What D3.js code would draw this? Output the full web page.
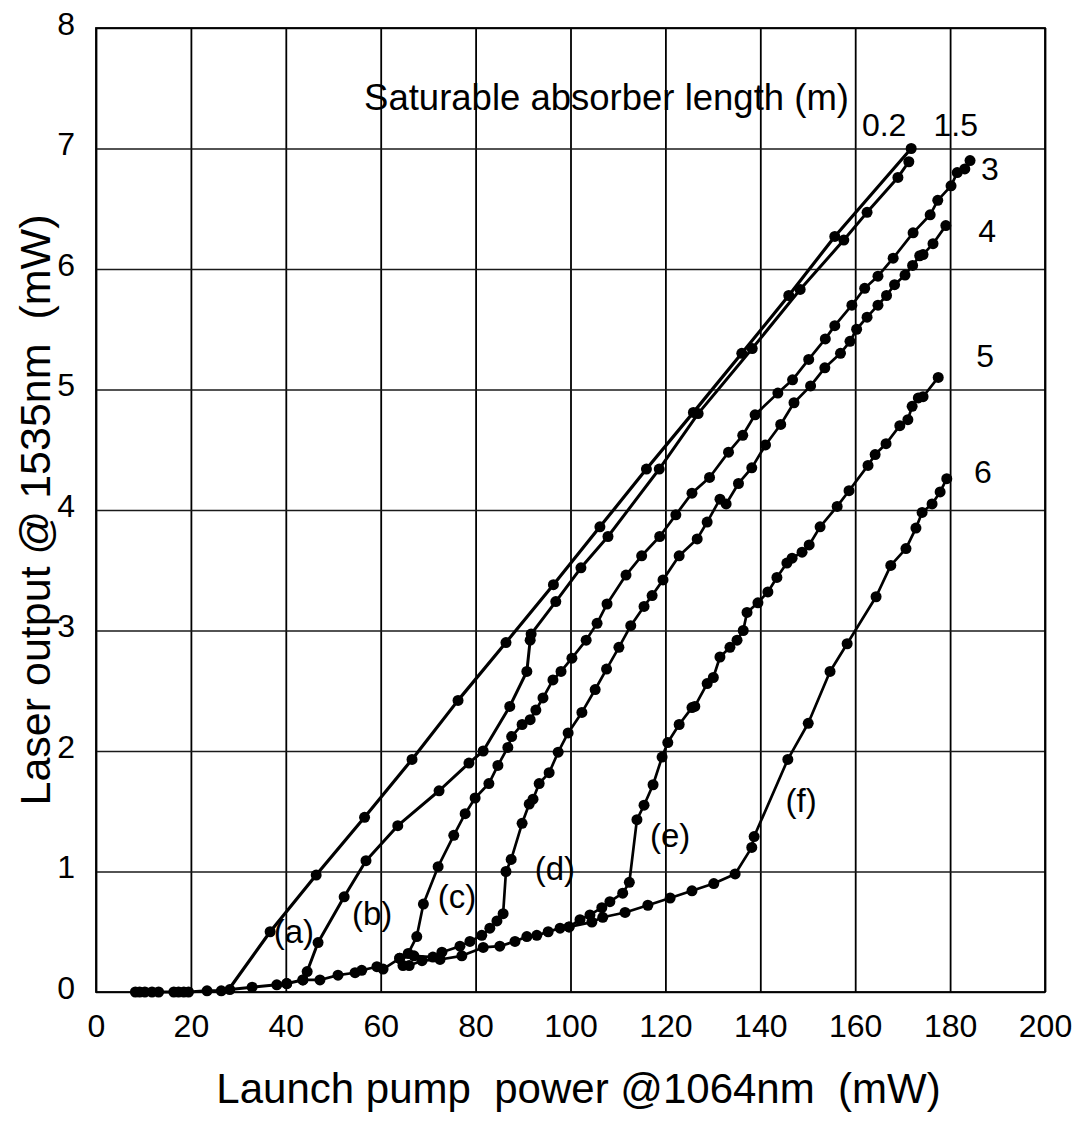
<!DOCTYPE html>
<html><head><meta charset="utf-8">
<script src="https://cdn.jsdelivr.net/npm/d3@7"></script>
<style>body{margin:0;background:#fff}</style>
</head><body>
<svg id="chart" width="1081" height="1128"></svg>
<script>
// ---------- data ----------
const xTicks = [0,20,40,60,80,100,120,140,160,180,200];
const yTicks = [0,1,2,3,4,5,6,7,8];

const belowThreshold = [[8.3,0],[9.2,0],[10.3,0],[11.8,0],[13.2,0],[16.4,0],[17.4,0],[18.5,0],[19.5,0],[23.4,0.01],[26.4,0.01],[28.2,0.02],[32.9,0.04],[38.1,0.06],[40.2,0.07]];

const seriesA = [[27.6,0],[36.7,0.5],[46.4,0.97],[56.6,1.45],[66.6,1.93],[76.3,2.42],[86.4,2.9],[96.4,3.38],[106.2,3.86],[116,4.34],[125.9,4.81],[136.1,5.3],[146,5.78],[155.7,6.27],[171.8,7.0]];

const seriesB = [[40.2,0.07],[43.6,0.1],[44.5,0.17],[46.8,0.41],[52.3,0.79],[56.9,1.09],[63.6,1.38],[72.3,1.67],[78.6,1.9],[81.6,2.0],[87.2,2.37],[90.8,2.66],[91.5,2.92],[91.7,2.97],[96.9,3.24],[102.2,3.52],[107.9,3.78],[118.7,4.34],[126.9,4.8],[138.3,5.34],[148.4,5.83],[157.6,6.24],[162.5,6.47],[169,6.76],[171.3,6.89]];

const seriesC = [[43.6,0.1],[47.2,0.1],[51,0.14],[54.6,0.16],[56,0.18],[59.2,0.21],[60.5,0.19],[64,0.28],[65.8,0.32],[67.6,0.46],[69,0.73],[72.1,1.04],[75.4,1.3],[77.8,1.48],[79.9,1.61],[82.8,1.73],[84.7,1.88],[86.8,2.03],[87.6,2.12],[89.8,2.22],[91.5,2.26],[92.7,2.34],[94.2,2.44],[96.3,2.59],[98,2.66],[100.3,2.77],[103.3,2.92],[105.6,3.06],[107.7,3.22],[111.7,3.46],[115,3.62],[118.8,3.78],[122.2,3.96],[125.6,4.14],[129.3,4.27],[133.3,4.48],[136.3,4.62],[138.9,4.79],[143.7,4.97],[146.8,5.08],[150.2,5.25],[153.7,5.42],[155.7,5.53],[159.3,5.7],[162,5.84],[164.8,5.94],[168,6.09],[172.2,6.3],[175.8,6.45],[177.4,6.57],[180.2,6.69],[181.5,6.8],[183.1,6.83],[184.2,6.9]];

const seriesD = [[64,0.28],[67,0.3],[71,0.29],[72.9,0.33],[76.7,0.38],[78.8,0.42],[81.3,0.47],[83,0.53],[84.5,0.59],[85.8,0.65],[86.4,1.0],[87.5,1.1],[89.8,1.4],[91.3,1.56],[92.1,1.6],[93.4,1.73],[95.5,1.82],[97.4,1.99],[99.5,2.15],[102.4,2.32],[105.2,2.51],[107.6,2.68],[110.2,2.86],[112.7,3.04],[115.5,3.2],[117.2,3.29],[119.5,3.42],[122.9,3.62],[126.7,3.76],[128.8,3.9],[131.5,4.09],[132.8,4.05],[135.4,4.22],[138.2,4.35],[141.1,4.54],[144.3,4.71],[147.1,4.89],[150.6,5.03],[153.6,5.18],[156.9,5.3],[158.9,5.4],[160.3,5.5],[162.5,5.6],[164.8,5.7],[166.6,5.78],[168.3,5.87],[170.5,5.95],[172.1,6.03],[173.6,6.11],[174.3,6.12],[176.4,6.21],[179.1,6.36]];

const seriesE = [[64.7,0.22],[66,0.22],[68.7,0.26],[72.5,0.27],[77.1,0.3],[81.6,0.37],[85.1,0.38],[88.3,0.42],[90.8,0.46],[92.9,0.47],[95.3,0.5],[97.8,0.53],[99.7,0.54],[102,0.6],[104.1,0.64],[106.6,0.7],[108.3,0.75],[111,0.82],[112.4,0.91],[114,1.43],[115.5,1.55],[117.4,1.72],[119.3,1.95],[120.5,2.07],[122.9,2.22],[125.6,2.36],[126.2,2.37],[128.8,2.56],[130.1,2.61],[131.5,2.78],[133.6,2.86],[135.1,2.92],[136.4,3.0],[137.2,3.15],[139.5,3.23],[141.6,3.32],[143.5,3.44],[145.6,3.56],[146.7,3.6],[148.8,3.65],[150.3,3.71],[152.6,3.86],[156.2,4.03],[158.7,4.16],[162.7,4.37],[164.2,4.46],[166.5,4.55],[169.4,4.7],[171.1,4.75],[172,4.86],[173.3,4.93],[174.3,4.94],[177.5,5.1]];

const seriesF = [[99.7,0.54],[104.5,0.58],[106.8,0.62],[111.5,0.66],[116.3,0.72],[121,0.78],[125.6,0.84],[130.2,0.9],[134.7,0.98],[138.2,1.2],[138.7,1.29],[145.8,1.93],[150.1,2.23],[154.7,2.66],[158.3,2.89],[164.4,3.28],[167.5,3.54],[170.7,3.68],[172.8,3.85],[174.1,3.98],[176.2,4.05],[177.9,4.15],[179.3,4.26]];

const curveNames = ["(a)","(b)","(c)","(d)","(e)","(f)"];
const curveNameAt = [[41.7,0.41],[58.2,0.56],[76.1,0.70],[96.7,0.93],[121,1.20],[148.6,1.49]];
const lengthNames = ["0.2","1.5","3","4","5","6"];
const lengthNameAt = [[166.1,7.10],[181.2,7.10],[188.4,6.74],[187.8,6.22],[187.4,5.19],[186.9,4.22]];
const legendTitle = "Saturable absorber length (m)";
const legendTitleAt = [56.5,7.32];
const xTitle = "Launch pump\u00a0 power @1064nm\u00a0 (mW)";
const yTitle = "Laser output @ 1535nm\u00a0 (mW)";

// ---------- chart ----------
const L = 96, R = 1045, T = 28, B = 992;
const svg = d3.select("#chart");
const font = "'Liberation Sans', Arial, sans-serif";

const x = d3.scaleLinear().domain([0,200]).range([L,R]);
const y = d3.scaleLinear().domain([0,8]).range([B,T]);

// vertical grid + x labels
const gx = svg.append("g").attr("transform",`translate(0,${B})`)
  .call(d3.axisBottom(x).tickValues(xTicks).tickSize(-(B-T)).tickPadding(22).tickFormat(d3.format("d")));
gx.select(".domain").remove();
gx.selectAll(".tick line").attr("stroke","#000").attr("stroke-width",1.8);
gx.selectAll(".tick text").attr("font-family",font).attr("font-size",32).attr("fill","#000");

// horizontal grid + y labels
const gy = svg.append("g").attr("transform",`translate(${L},0)`)
  .call(d3.axisLeft(y).tickValues(yTicks).tickSize(-(R-L)).tickPadding(21).tickFormat(d3.format("d")));
gy.select(".domain").remove();
gy.selectAll(".tick line").attr("stroke","#1a1a1a").attr("stroke-width",1.4);
gy.selectAll(".tick text").attr("font-family",font).attr("font-size",32).attr("fill","#000").attr("dy","0.2em");

// frame
svg.append("rect").attr("x",L).attr("y",T).attr("width",R-L).attr("height",B-T)
  .attr("fill","none").attr("stroke","#000").attr("stroke-width",1.8);

const line = d3.line().x(d=>x(d[0])).y(d=>y(d[1]));
const all = [
  {d:belowThreshold, w:3.0},
  {d:seriesA, w:3.2},
  {d:seriesB, w:3.0},
  {d:seriesC, w:2.7},
  {d:seriesD, w:2.7},
  {d:seriesE, w:2.7},
  {d:seriesF, w:2.7}
];
all.forEach(s=>{
  svg.append("path").datum(s.d).attr("d",line).attr("fill","none")
    .attr("stroke","#000").attr("stroke-width",s.w).attr("stroke-linejoin","round");
});
all.forEach((s,i)=>{
  const pts = (i===1) ? s.d.slice(1) : s.d;
  svg.append("g").selectAll("circle").data(pts).join("circle")
    .attr("cx",d=>x(d[0])).attr("cy",d=>y(d[1])).attr("r",5.5).attr("fill","#000");
});

// labels
svg.append("g").selectAll("text").data(curveNames).join("text")
  .attr("x",(d,i)=>x(curveNameAt[i][0])).attr("y",(d,i)=>y(curveNameAt[i][1]))
  .attr("text-anchor","middle").attr("font-family",font).attr("font-size",33).text(d=>d);
svg.append("g").selectAll("text").data(lengthNames).join("text")
  .attr("x",(d,i)=>x(lengthNameAt[i][0])).attr("y",(d,i)=>y(lengthNameAt[i][1]))
  .attr("text-anchor","middle").attr("font-family",font).attr("font-size",32).text(d=>d);
svg.append("text").attr("x",x(legendTitleAt[0])).attr("y",y(legendTitleAt[1]))
  .attr("font-family",font).attr("font-size",36.5).text(legendTitle);

svg.append("text").attr("x",(L+R)/2+8).attr("y",1103).attr("text-anchor","middle")
  .attr("font-family",font).attr("font-size",42).text(xTitle);
svg.append("text").attr("transform",`translate(50,510) rotate(-90)`).attr("text-anchor","middle")
  .attr("font-family",font).attr("font-size",43).text(yTitle);
</script>
</body></html>
